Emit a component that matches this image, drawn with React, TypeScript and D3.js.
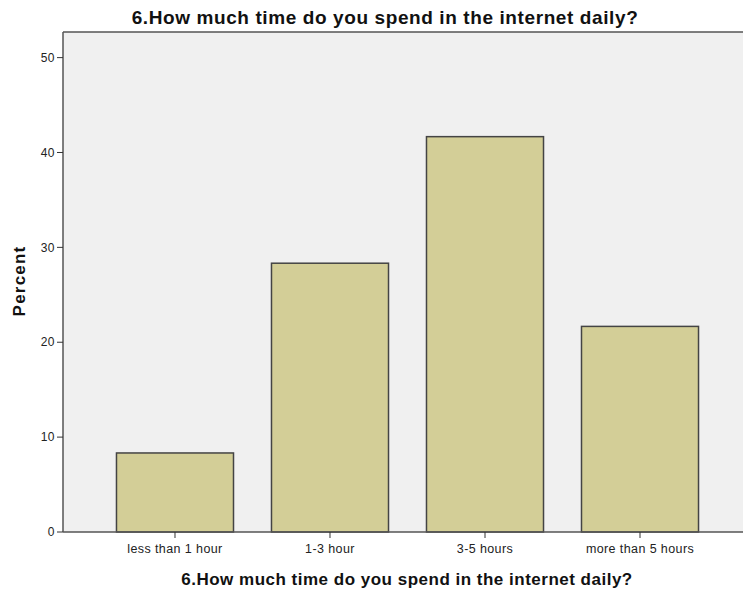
import React from "react";
import * as d3 from "d3";

const categories = ["less than 1 hour", "1-3 hour", "3-5 hours", "more than 5 hours"];
const percents = [8.33, 28.33, 41.67, 21.67];
const yTicks = [0, 10, 20, 30, 40, 50];
const title = "6.How much time do you spend in the internet daily?";
const xTitle = "6.How much time do you spend in the internet daily?";
const yTitle = "Percent";

export default function App() {
  const W = 743, H = 592;
  const left = 63, top = 32, bottom = 532, rightExt = 752;
  const y = d3.scaleLinear().domain([0, 52.7]).range([bottom, top]);
  const x = d3.scaleBand<string>().domain(categories).range([left, rightExt]).paddingInner(0.245).paddingOuter(0.345);
  const font = "'Liberation Sans', Arial, sans-serif";
  return (
    <svg width={W} height={H} style={{ position: "absolute", left: 0, top: 0, display: "block" }}>
      <rect x={0} y={0} width={W} height={H} fill="#ffffff" />
      <rect x={left} y={top} width={rightExt - left} height={bottom - top} fill="#f0f0f0" />
      {percents.map((v, i) => (
        <rect key={i} x={x(categories[i])} y={y(v)} width={x.bandwidth()} height={bottom - y(v)}
          fill="#d3ce97" stroke="#444444" strokeWidth={1.5} />
      ))}
      <line x1={left} y1={top} x2={W} y2={top} stroke="#555" strokeWidth={1.5} />
      <line x1={left} y1={top} x2={left} y2={bottom} stroke="#555" strokeWidth={1.5} />
      <line x1={left} y1={bottom} x2={W} y2={bottom} stroke="#555" strokeWidth={1.5} />
      {yTicks.map(t => (
        <g key={t}>
          <line x1={left - 6} x2={left} y1={y(t)} y2={y(t)} stroke="#333" strokeWidth={1} />
          <text x={left - 8} y={y(t)} dy="0.35em" textAnchor="end" fontFamily={font} fontSize={12} letterSpacing={0.5} fill="#222">{t}</text>
        </g>
      ))}
      {categories.map(c => {
        const cx = (x(c) as number) + x.bandwidth() / 2;
        return (
          <g key={c}>
            <line x1={cx} x2={cx} y1={bottom} y2={bottom + 6} stroke="#333" strokeWidth={1} />
            <text x={cx} y={bottom + 21} textAnchor="middle" fontFamily={font} fontSize={12.5} letterSpacing={0.4} fill="#222">{c}</text>
          </g>
        );
      })}
      <text x={385} y={24} textAnchor="middle" fontFamily={font} fontSize={19} letterSpacing={0.6} fontWeight="bold" fill="#111">{title}</text>
      <text x={407} y={585} textAnchor="middle" fontFamily={font} fontSize={17} letterSpacing={0.5} fontWeight="bold" fill="#111">{xTitle}</text>
      <text transform={`translate(25,281) rotate(-90)`} textAnchor="middle" fontFamily={font} fontSize={17} letterSpacing={1.2} fontWeight="bold" fill="#111">{yTitle}</text>
    </svg>
  );
}
